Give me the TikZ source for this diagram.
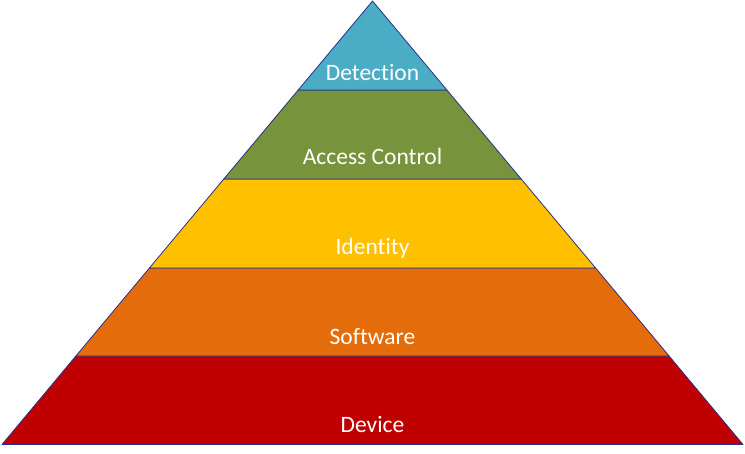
\documentclass[tikz,border=0pt]{standalone}
\usepackage{fontspec}
\setmainfont{Carlito}[Ligatures={NoCommon}]
\definecolor{detect}{HTML}{4BACC6}
\definecolor{access}{HTML}{77933C}
\definecolor{ident}{HTML}{FFC000}
\definecolor{soft}{HTML}{E46C0A}
\definecolor{device}{HTML}{C00000}
\definecolor{rim}{HTML}{2A2F8C}
\begin{document}
\begin{tikzpicture}[x=1pt,y=-1pt,
    layer/.style={draw=rim,line width=0.8pt,line join=round},
    lbl/.style={anchor=base,text=white,font=\fontsize{23.5}{28}\selectfont}]
      \useasboundingbox (0,0) rectangle (745,453);
      % layers
      \filldraw [layer,fill=device] (75.9,356) -- (669.1,356) -- (743,444.5) -- (2,444.5) -- cycle;
      \filldraw [layer,fill=soft] (149.4,268) -- (595.6,268) -- (669.1,356) -- (75.9,356) -- cycle;
      \filldraw [layer,fill=ident] (223.8,179) -- (521.2,179) -- (595.6,268) -- (149.4,268) -- cycle;
      \filldraw [layer,fill=access] (298.2,90) -- (446.9,90) -- (521.2,179) -- (223.8,179) -- cycle;
      \filldraw [layer,fill=detect] (372.5,1) -- (446.9,90) -- (298.2,90) -- cycle;
      % labels
      \node [lbl] (detection) at (372.5,80) {Detection};
      \node [lbl] (access) at (372.5,164) {Access Control};
      \node [lbl] (identity) at (372.5,254) {Identity};
      \node [lbl] (software) at (372.5,344) {Software};
      \node [lbl] (device) at (372.5,432) {Device};
\end{tikzpicture}
\end{document}
